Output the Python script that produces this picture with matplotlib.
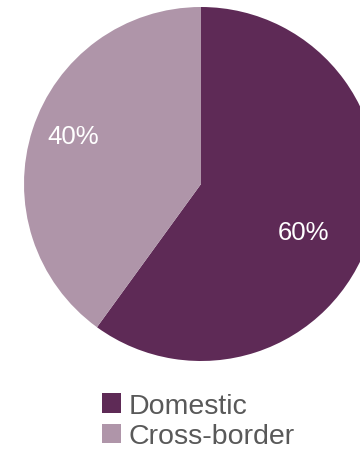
import matplotlib
matplotlib.use('Agg')
import matplotlib.pyplot as plt
from matplotlib.patches import Patch

plt.rcParams['font.family'] = ['Liberation Sans', 'DejaVu Sans']

labels = ['Domestic', 'Cross-border']
shares = [60, 40]
colors = ['#5E2A56', '#AF95A9']

W, H = 360, 456
fig = plt.figure(figsize=(W / 100, H / 100), dpi=100)

# pie centre (201, 185) px from top-left, radius 177 px
cx, cy, r = 201, 185, 177
ax = fig.add_axes([(cx - r) / W, (H - cy - r) / H, 2 * r / W, 2 * r / H])

wedges, texts, autotexts = ax.pie(shares, colors=colors, startangle=90, counterclock=False,
                                  autopct='%d%%', pctdistance=0.7, radius=1,
                                  textprops={'color': 'white', 'fontsize': 18.5},
                                  wedgeprops={'linewidth': 0})
autotexts[0].set_position((0.58, -0.27))
autotexts[1].set_position((-0.72, 0.27))
for t in autotexts:
    t.set_ha('center')
    t.set_va('center')
ax.set_xlim(-1, 1)
ax.set_ylim(-1, 1)
ax.set_aspect('equal')
ax.axis('off')

handles = [Patch(facecolor=c, edgecolor='none') for c in colors]
fig.legend(handles, labels, loc='upper left', bbox_to_anchor=(102 / W, 1 - 394 / H),
           frameon=False, fontsize=20.5, labelcolor='#595959',
           handlelength=0.68, handleheight=0.68, handletextpad=0.25,
           labelspacing=0.15, borderpad=0, borderaxespad=0)

fig.savefig('out.png', dpi=100)
